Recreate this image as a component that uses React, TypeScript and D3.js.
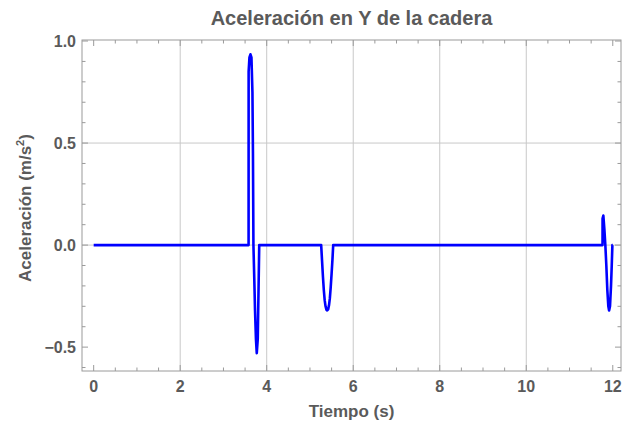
import React from "react";
import * as d3 from "d3";

// Time (s) and hip Y-acceleration (m/s^2) samples
const tiempo = [
  0, 3.581, 3.582, 3.601, 3.624, 3.647, 3.67, 3.682, 3.693, 3.712, 3.73, 3.751, 3.77, 3.793, 3.816, 3.827,
  5.259, 5.28, 5.3, 5.32, 5.34, 5.36, 5.38, 5.398, 5.42, 5.44, 5.46, 5.48, 5.5, 5.52, 5.537,
  11.763, 11.764, 11.782, 11.805, 11.828, 11.851, 11.874, 11.897, 11.915, 11.936, 11.959, 11.976, 11.991, 12.0,
];
const aceleracion = [
  0, 0, 0.85, 0.92, 0.935, 0.92, 0.75, 0.45, 0.0, -0.16, -0.32, -0.46, -0.53, -0.46, -0.15, 0,
  0, -0.08, -0.155, -0.22, -0.27, -0.3, -0.317, -0.32, -0.315, -0.295, -0.26, -0.205, -0.14, -0.07, 0,
  0, 0.13, 0.145, 0.08, 0, -0.1, -0.22, -0.3, -0.32, -0.3, -0.2, -0.1, 0, 0,
];

const xMajor = [0, 2, 4, 6, 8, 10, 12];
const yMajor = [-0.5, 0.0, 0.5, 1.0];
const xGrid = [2, 4, 6, 8, 10];
const yGrid = [0, 0.5];
const xDomain = [-0.27, 12.19];
const yDomain = [-0.617, 1.005];

const titulo = "Aceleración en Y de la cadera";
const xLabel = "Tiempo (s)";

export default function App() {
  const W = 623, H = 426;
  const L = 82, R = 621, T = 40, B = 371;
  const x = d3.scaleLinear().domain(xDomain).range([L, R]);
  const y = d3.scaleLinear().domain(yDomain).range([B, T]);

  const xMinor = d3.range(0, 12.01, 0.5).filter((v) => !xMajor.some((m) => Math.abs(m - v) < 1e-6));
  const yMinor = d3.range(-0.6, 1.001, 0.1).map((v) => Math.round(v * 10) / 10)
    .filter((v) => !yMajor.some((m) => Math.abs(m - v) < 1e-6));

  const pts: [number, number][] = tiempo.map((t, i) => [t, aceleracion[i]]);
  const line = d3.line<[number, number]>().x((d) => x(d[0])).y((d) => y(d[1]));

  const frame = "#9a9a9a";
  const txt = "#5a5a5a";
  const font = "'Liberation Sans', Arial, sans-serif";
  const majLen = 6, minLen = 3.5;

  return (
    <svg width={W} height={H} style={{ position: "fixed", left: 0, top: 0, background: "#fff" }}
      fontFamily={font}>
      <rect x={0} y={0} width={W} height={H} fill="#fff" />
      {/* grid */}
      {xGrid.map((v) => (
        <line key={"gx" + v} x1={x(v)} x2={x(v)} y1={T} y2={B} stroke="#c8c8c8" strokeWidth={1} />
      ))}
      {yGrid.map((v) => (
        <line key={"gy" + v} x1={L} x2={R} y1={y(v)} y2={y(v)} stroke="#c8c8c8" strokeWidth={1} />
      ))}
      {/* ticks */}
      {xMajor.map((v) => (
        <g key={"xt" + v}>
          <line x1={x(v)} x2={x(v)} y1={B} y2={B - majLen} stroke={frame} />
          <line x1={x(v)} x2={x(v)} y1={T} y2={T + majLen} stroke={frame} />
        </g>
      ))}
      {xMinor.map((v) => (
        <g key={"xm" + v}>
          <line x1={x(v)} x2={x(v)} y1={B} y2={B - minLen} stroke={frame} />
          <line x1={x(v)} x2={x(v)} y1={T} y2={T + minLen} stroke={frame} />
        </g>
      ))}
      {yMajor.map((v) => (
        <g key={"yt" + v}>
          <line x1={L} x2={L + majLen} y1={y(v)} y2={y(v)} stroke={frame} />
          <line x1={R} x2={R - majLen} y1={y(v)} y2={y(v)} stroke={frame} />
        </g>
      ))}
      {yMinor.map((v) => (
        <g key={"ym" + v}>
          <line x1={L} x2={L + minLen} y1={y(v)} y2={y(v)} stroke={frame} />
          <line x1={R} x2={R - minLen} y1={y(v)} y2={y(v)} stroke={frame} />
        </g>
      ))}
      {/* data */}
      <path d={line(pts) ?? ""} fill="none" stroke="#0000ff" strokeWidth={2.6}
        strokeLinejoin="round" strokeLinecap="butt" />
      {/* frame */}
      <rect x={L} y={T} width={R - L} height={B - T} fill="none" stroke={frame} strokeWidth={1} />
      {/* tick labels */}
      {xMajor.map((v) => (
        <text key={"xl" + v} x={x(v)} y={392} textAnchor="middle" fontSize={16}
          fontWeight="bold" fill={txt}>{d3.format("d")(v)}</text>
      ))}
      {yMajor.map((v) => (
        <text key={"yl" + v} x={76} y={y(v) + 6} textAnchor="end" fontSize={16}
          fontWeight="bold" fill={txt}>{d3.format(".1f")(v).replace("-", "\u2212")}</text>
      ))}
      {/* titles */}
      <text x={(L + R) / 2} y={25} textAnchor="middle" fontSize={20} fontWeight="bold" fill={txt}>
        {titulo}
      </text>
      <text x={(L + R) / 2} y={417} textAnchor="middle" fontSize={17} fontWeight="bold" fill={txt}>
        {xLabel}
      </text>
      <text transform={`translate(31,${208}) rotate(-90)`} textAnchor="middle" fontSize={17}
        fontWeight="bold" fill={txt}>
        Aceleración (m/s<tspan fontSize={11} dy={-7}>2</tspan><tspan dy={7}>)</tspan>
      </text>
    </svg>
  );
}
